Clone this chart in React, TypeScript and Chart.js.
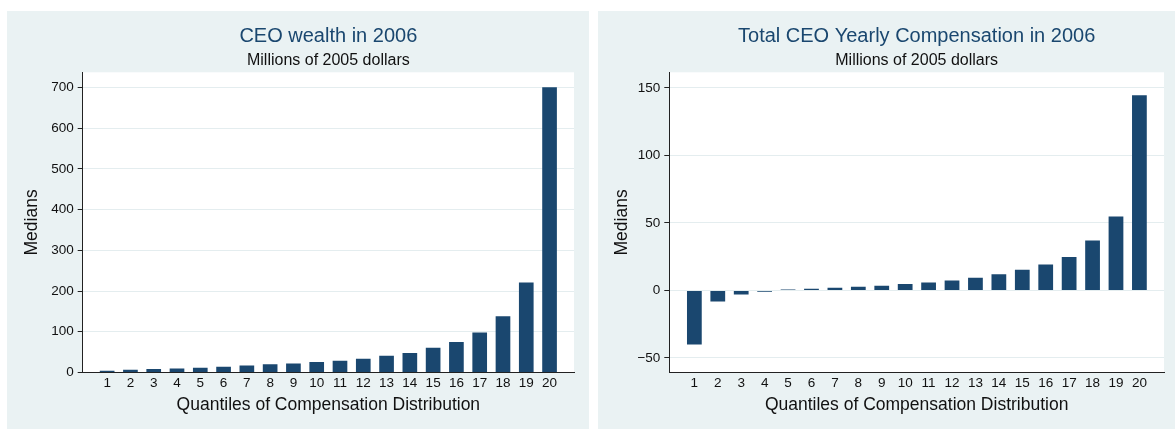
import { useEffect, useRef } from 'react'
import { Chart, registerables } from 'chart.js'

Chart.register(...registerables)

// quantiles 1..20 of the compensation distribution
const quantiles = [1, 2, 3, 4, 5, 6, 7, 8, 9, 10, 11, 12, 13, 14, 15, 16, 17, 18, 19, 20]

// medians, millions of 2005 dollars
const wealthMedians = [4, 6.5, 8.5, 10, 11.5, 14, 17, 20, 22, 26, 29, 34, 41, 48, 61, 75, 98, 138, 221, 700]
const compensationMedians = [
  -40, -8.2, -3, -1, 0.75, 1.2, 2, 2.7, 3.5, 4.7, 5.9, 7.4, 9.4, 11.9, 15.3, 19.3, 24.8, 36.9, 54.7, 144.6,
]

const wealthTicks = [0, 100, 200, 300, 400, 500, 600, 700]
const compensationTicks = [-50, 0, 50, 100, 150]

const FONT = "'Liberation Sans', Arial, Helvetica, sans-serif"
const NAVY = '#1a476f'
const PANEL_BG = '#eaf2f3'
const GRID = '#e4edef'

interface PanelProps {
  title: string
  values: number[]
  yTicks: number[]
  yMin: number
  yMax: number
  xMin: number
  xMax: number
  left: number
  width: number
  yAxisWidth: number
  padRight: number
  yTitlePad: number
}

// white plot region like Stata's
const plotBackground = {
  id: 'plotBackground',
  beforeDraw(chart: Chart) {
    const { ctx, chartArea } = chart
    ctx.save()
    ctx.fillStyle = '#ffffff'
    ctx.fillRect(chartArea.left, chartArea.top, chartArea.width, chartArea.height)
    ctx.restore()
  },
}

function BarPanel(props: PanelProps) {
  const canvasRef = useRef<HTMLCanvasElement>(null)
  const chartRef = useRef<Chart | null>(null)

  useEffect(() => {
    if (!canvasRef.current) return
    if (chartRef.current) chartRef.current.destroy()
    const ctx = canvasRef.current.getContext('2d')
    if (!ctx) return

    chartRef.current = new Chart(ctx, {
      type: 'bar',
      data: {
        datasets: [
          {
            label: 'Medians',
            data: quantiles.map((q, i) => ({ x: q, y: props.values[i] })),
            backgroundColor: NAVY,
            borderWidth: 0,
            barPercentage: 0.63,
            categoryPercentage: 1,
          },
        ],
      },
      options: {
        responsive: true,
        maintainAspectRatio: false,
        animation: false,
        layout: {
          padding: { left: 0, right: props.padRight, top: 0, bottom: 0 },
        },
        plugins: {
          legend: { display: false },
          tooltip: { enabled: false },
          title: {
            display: true,
            text: props.title,
            color: NAVY,
            fullSize: false,
            font: { family: FONT, size: 20, weight: 'normal' },
            padding: { top: 13.3, bottom: 0 },
          },
          subtitle: {
            display: true,
            text: 'Millions of 2005 dollars',
            color: '#111',
            fullSize: false,
            font: { family: FONT, size: 16, weight: 'normal' },
            padding: { top: 2.6, bottom: 2.2 },
          },
        },
        scales: {
          x: {
            type: 'linear',
            min: props.xMin,
            max: props.xMax,
            offset: false,
            grid: { display: false, drawTicks: false },
            border: { display: true, color: '#222', width: 1 },
            afterBuildTicks: (scale: any) => {
              scale.ticks = quantiles.map((q) => ({ value: q }))
            },
            afterFit: (scale: any) => {
              scale.height = 56.5
            },
            ticks: {
              color: '#111',
              padding: 3,
              maxRotation: 0,
              autoSkip: false,
              font: { family: FONT, size: 13.5 },
              callback: (v: any) => String(v),
            },
            title: {
              display: true,
              text: 'Quantiles of Compensation Distribution',
              color: '#111',
              font: { family: FONT, size: 17.5 },
              padding: { top: 0, bottom: 13.8 },
            },
          },
          y: {
            type: 'linear',
            min: props.yMin,
            max: props.yMax,
            grid: { color: GRID, tickColor: '#222', tickLength: 5, drawTicks: true },
            border: { display: true, color: '#222', width: 1 },
            afterBuildTicks: (scale: any) => {
              scale.ticks = props.yTicks.map((t) => ({ value: t }))
            },
            afterFit: (scale: any) => {
              scale.width = props.yAxisWidth
            },
            ticks: {
              color: '#111',
              padding: 4,
              font: { family: FONT, size: 13.5 },
              callback: (v: any) => String(v).replace('-', '\u2212'),
            },
            title: {
              display: true,
              text: 'Medians',
              color: '#111',
              font: { family: FONT, size: 17.5 },
              padding: { top: props.yTitlePad, bottom: 0 },
            },
          },
        },
      },
      plugins: [plotBackground],
    })

    return () => {
      if (chartRef.current) {
        chartRef.current.destroy()
        chartRef.current = null
      }
    }
  }, [props])

  return (
    <div
      style={{
        position: 'absolute',
        left: props.left,
        top: 11,
        width: props.width,
        height: 418,
        background: PANEL_BG,
      }}
    >
      <canvas ref={canvasRef}></canvas>
    </div>
  )
}

const leftPanel: PanelProps = {
  title: 'CEO wealth in 2006',
  values: wealthMedians,
  yTicks: wealthTicks,
  yMin: 0,
  yMax: 737,
  xMin: -0.05,
  xMax: 21.05,
  left: 7,
  width: 582,
  yAxisWidth: 75.7,
  padRight: 15,
  yTitlePad: 14.2,
}

const rightPanel: PanelProps = {
  title: 'Total CEO Yearly Compensation in 2006',
  values: compensationMedians,
  yTicks: compensationTicks,
  yMin: -60.8,
  yMax: 161.6,
  xMin: -0.07,
  xMax: 21.05,
  left: 598,
  width: 577,
  yAxisWidth: 71.3,
  padRight: 11,
  yTitlePad: 13.3,
}

export default function App() {
  return (
    <div
      style={{
        position: 'absolute',
        left: 0,
        top: 0,
        width: 1175,
        height: 429,
        background: '#ffffff',
        overflow: 'hidden',
      }}
    >
      <BarPanel {...leftPanel} />
      <BarPanel {...rightPanel} />
    </div>
  )
}
